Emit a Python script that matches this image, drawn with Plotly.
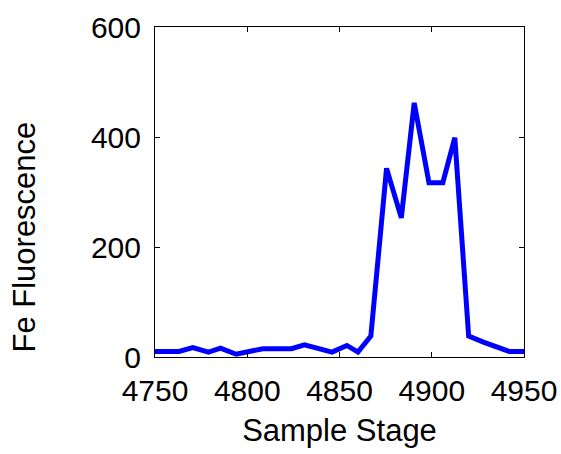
import plotly.graph_objects as go

# Data
sample_stage = [4750, 4756, 4763, 4770.5, 4779, 4785.5, 4794, 4801, 4808.5, 4816,
                4824, 4831, 4839, 4846, 4854, 4860, 4867, 4875.5, 4883.5, 4890.5,
                4898.5, 4906, 4912.5, 4920, 4928, 4936, 4942, 4950]
fe_fluorescence = [10, 10, 10, 17, 9, 16, 5, 10, 15, 15,
                   15, 22, 15, 9, 21, 9, 38, 343, 253, 462,
                   317, 317, 399, 38, 27, 16, 10, 10]

x_ticks = [4750, 4800, 4850, 4900, 4950]
y_ticks = [0, 200, 400, 600]

FONT = "Liberation Sans, Arial, Helvetica, sans-serif"
FS = 30

fig = go.Figure()
fig.add_trace(go.Scatter(
    x=sample_stage, y=fe_fluorescence, mode="lines",
    line=dict(color="#0000FF", width=5), showlegend=False,
))

axis_common = dict(
    showgrid=False, zeroline=False, showline=True, linecolor="black", linewidth=1,
    mirror="ticks", ticks="inside", ticklen=5, tickcolor="black", tickwidth=1,
    tickfont=dict(family=FONT, size=FS, color="black"),
)

fig.update_xaxes(
    range=[4750, 4950], tickvals=x_ticks, ticktext=[str(v) for v in x_ticks],
    title=dict(text="Sample Stage", font=dict(family=FONT, size=31, color="black"), standoff=13),
    ticklabelstandoff=7,
    **axis_common,
)
fig.update_yaxes(
    range=[0, 600], tickvals=y_ticks, ticktext=[str(v) for v in y_ticks],
    ticklabelstandoff=7,
    **axis_common,
)

fig.add_annotation(
    text="Fe Fluorescence", textangle=-90, showarrow=False,
    xref="paper", yref="paper", x=0, y=0.362, xanchor="center", yanchor="middle",
    xshift=-130, font=dict(family=FONT, size=31, color="black"),
)

fig.update_layout(
    width=561, height=454,
    margin=dict(l=155, r=37, t=27, b=97, autoexpand=False),
    paper_bgcolor="white", plot_bgcolor="white",
    font=dict(family=FONT, size=FS, color="black"),
)

fig.write_html(
    "out.html",
    config={"displayModeBar": False, "staticPlot": True},
    post_script="document.body.style.margin='0';document.body.style.overflow='hidden';",
)
